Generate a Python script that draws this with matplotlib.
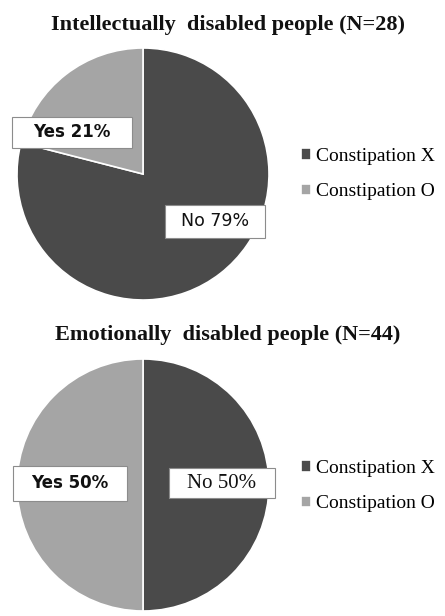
import matplotlib
matplotlib.use("Agg")
import matplotlib.pyplot as plt
from matplotlib.patches import Rectangle

W, H = 445, 616

titles = ["Intellectually  disabled people (N=28)", "Emotionally  disabled people (N=44)"]
legend_labels = ["Constipation X", "Constipation O"]
slice_names = ["No", "Yes"]
top_values = [79, 21]
bottom_values = [50, 50]
colors = ["#4a4a4a", "#a5a5a5"]

fig = plt.figure(figsize=(W / 100, H / 100), dpi=100)
fig.patch.set_facecolor("white")


def px_axes(cx, cy, r):
    # axes box in pixels (top-left origin) -> figure fraction
    return fig.add_axes([(cx - r) / W, 1 - (cy + r) / H, 2 * r / W, 2 * r / H])


def draw_pie(cx, cy, r, values, title_y, title, label_specs, legend_y):
    ax = px_axes(cx, cy, r)
    wedges, _ = ax.pie(values, colors=colors, startangle=90, counterclock=False,
                       radius=1, wedgeprops=dict(edgecolor="white", linewidth=1.2))
    ax.set_xlim(-1, 1)
    ax.set_ylim(-1, 1)
    ax.set_aspect("auto")
    ax.axis("off")

    for name, val, (lx, ly, bw, bh, fam, weight, fs) in zip(slice_names, values, label_specs):
        # lx, ly are pixel offsets from pie centre
        x = lx / r
        y = -ly / r
        ax.add_patch(Rectangle((x - bw / r / 2, y - bh / r / 2), bw / r, bh / r,
                               facecolor="white", edgecolor="#8c8c8c", linewidth=0.8,
                               zorder=5, clip_on=False))
        ax.text(x, y, f"{name} {val}%", ha="center", va="center", fontsize=fs,
                family=fam, weight=weight, color="#111111", zorder=6)

    fig.text(228 / W, 1 - title_y / H, title, ha="center", va="center",
             family="Liberation Serif", weight="bold", fontsize=16, color="#111111")

    fig.legend(wedges, legend_labels, loc="center left",
               bbox_to_anchor=(291 / W, 1 - legend_y / H), frameon=False,
               prop=dict(family="Liberation Serif", size=14),
               handlelength=0.55, handleheight=0.55, handletextpad=0.25,
               labelspacing=0.95, borderpad=0)


draw_pie(143, 174, 126, top_values, 25, titles[0],
         [(72, 47, 100, 33, "DejaVu Sans", "normal", 12.5),
          (-71, -42, 120, 31, "DejaVu Sans", "bold", 12)], 174)
draw_pie(143, 485, 126, bottom_values, 335, titles[1],
         [(79, -2, 106, 30, "Liberation Serif", "normal", 15),
          (-73, -2, 114, 35, "DejaVu Sans", "bold", 12)], 486)

fig.savefig("out.png", dpi=100, facecolor="white")
